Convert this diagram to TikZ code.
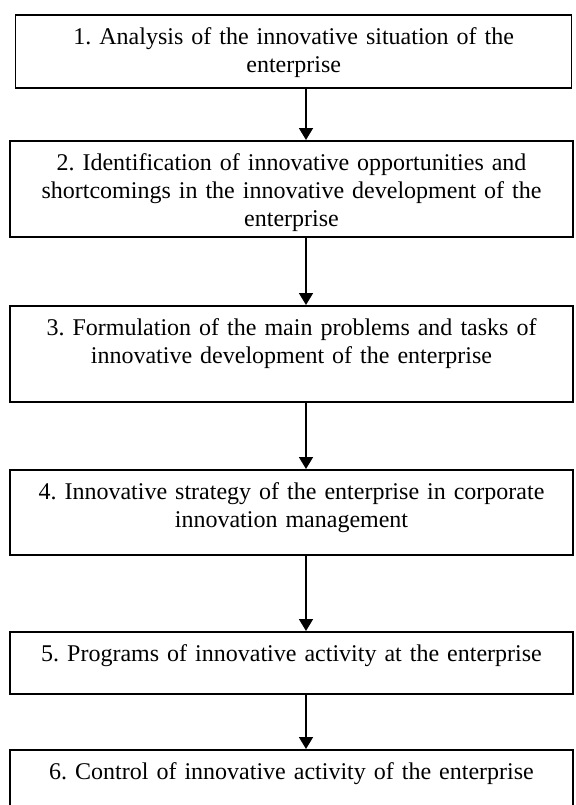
\documentclass[tikz,border=0pt]{standalone}
\usepackage{fontspec}
\setmainfont{Liberation Serif}
\usepackage{tikz}
\usetikzlibrary{arrows.meta,positioning,calc}
\frenchspacing
\definecolor{StInk}{HTML}{000000}
\tikzset{
  flow/.style={-{Triangle[length=6pt,width=7pt]},StInk,line width=0.8pt},
  stage/.style={draw=StInk,line width=0.75pt,anchor=north,inner sep=0pt,
                text width=281.5pt,align=center,text=StInk,
                font=\fontsize{12}{14}\selectfont,
                text height=15pt,text depth=#1},
  stage/.default=33pt,
}

\begin{document}
\begin{tikzpicture}[x=1pt,y=-1pt]
    \useasboundingbox (0,0) rectangle (288,402.5);
    \coordinate (spine) at (153,0);

    \node[stage=21.5pt,text width=278pt] (analysis) at (146.85,7)
      {1. Analysis of the innovative situation of the\\ enterprise};
    \node[stage=33pt] (ident) at (145.75,70)
      {2. Identification of innovative opportunities and\\
       shortcomings in the innovative development of the\\ enterprise};
    \node[stage=33pt] (formul) at (145.75,152.5)
      {3. Formulation of the main problems and tasks of\\
       innovative development of the enterprise};
    \node[stage=27.5pt] (strategy) at (145.75,234.5)
      {4. Innovative strategy of the enterprise in corporate\\
       innovation management};
    \node[stage=16pt] (programs) at (145.75,315.5)
      {5. Programs of innovative activity at the enterprise};
    \node[stage=20pt] (control) at (145.75,374.5)
      {6. Control of innovative activity of the enterprise};

    \draw[flow] (analysis.south -| spine) -- (ident.north -| spine);
    \draw[flow] (ident.south -| spine) -- (formul.north -| spine);
    \draw[flow] (formul.south -| spine) -- (strategy.north -| spine);
    \draw[flow] (strategy.south -| spine) -- (programs.north -| spine);
    \draw[flow] (programs.south -| spine) -- (control.north -| spine);
  \end{tikzpicture}
\end{document}
